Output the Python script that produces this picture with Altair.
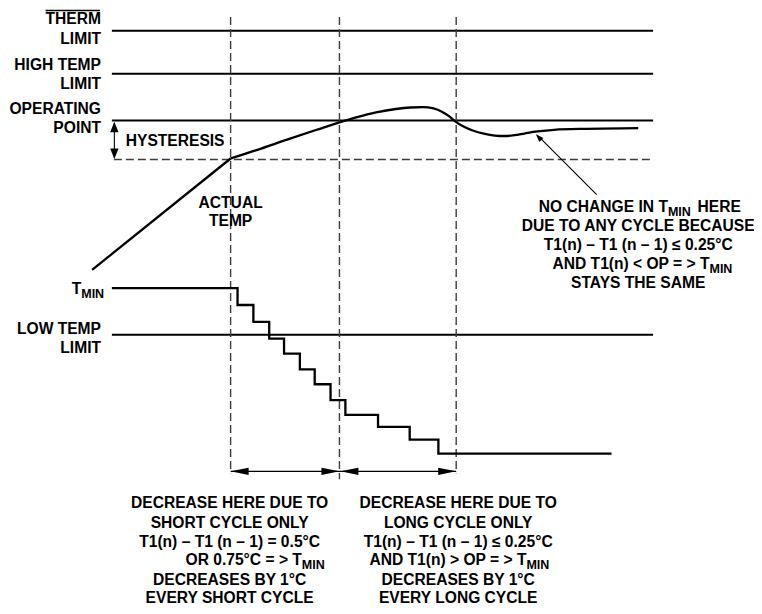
import altair as alt
import pandas as pd

# ---- diagram values (figure coordinates, y grows downward) ----
limit_names = ["THERM LIMIT", "HIGH TEMP LIMIT", "OPERATING POINT", "LOW TEMP LIMIT"]
limit_levels = [35.0, 78.3, 125.7, 342.0]
limit_start = 113
limit_end = 660
hysteresis_level = 165.0
cycle_bounds = [233, 343, 461]
cycle_ends = [482, 488, 482]

rise_x = [93, 233]
rise_y = [276.5, 164.0]

curve_x = [233, 260, 290, 320, 343, 360, 380, 400, 415, 427, 438, 447, 454, 460,
           467, 477, 490, 500, 510, 520, 530, 543, 560, 593, 645]
curve_y = [164.0, 155.3, 145.0, 135.0, 127.5, 122.5, 117.5, 114.0, 112.5, 112.2,
           113.5, 117.0, 121.5, 126.5, 131.0, 135.5, 139.2, 140.8, 141.3, 140.5,
           138.8, 136.7, 135.0, 134.0, 133.3]

tmin_x = [113, 240, 256, 272, 287, 303, 318, 334, 349, 382, 414, 443, 618]
tmin_y = [295, 312, 329, 346, 361, 377, 392, 408, 423, 435, 448, 462, 462]

FONT = "Liberation Sans, Arial, Helvetica, sans-serif"
FS = 15.6
SUB = 12.5
W, H = 746, 598

# the drawing area (746x598) shows the whole figure
xs = alt.Scale(domain=[8, 762], nice=False, zero=False)
ys = alt.Scale(domain=[12, 616], nice=False, zero=False, reverse=True)


def X(f="x"):
    return alt.X(f"{f}:Q", scale=xs, axis=None)


def Y(f="y"):
    return alt.Y(f"{f}:Q", scale=ys, axis=None)


# ---- lines ----
limits_df = pd.DataFrame({"name": limit_names, "y": limit_levels,
                          "x": limit_start, "x2": limit_end})
limits = alt.Chart(limits_df).mark_rule(color="black", strokeWidth=2).encode(
    x=X(), x2="x2:Q", y=Y())

hyst_df = pd.DataFrame({"x": [115], "x2": [limit_end], "y": [hysteresis_level]})
hyst = alt.Chart(hyst_df).mark_rule(color="#3c3c3c", strokeWidth=1.4, strokeDash=[8, 4]).encode(
    x=X(), x2="x2:Q", y=Y())

cyc_df = pd.DataFrame({"x": cycle_bounds, "y": [21] * 3, "y2": cycle_ends})
cycles = alt.Chart(cyc_df).mark_rule(color="#3c3c3c", strokeWidth=1.4, strokeDash=[8, 4]).encode(
    x=X(), y=Y(), y2="y2:Q")

rise = alt.Chart(pd.DataFrame({"x": rise_x, "y": rise_y})).mark_line(
    color="black", strokeWidth=2.3).encode(x=X(), y=Y())

curve = alt.Chart(pd.DataFrame({"x": curve_x, "y": curve_y})).mark_line(
    color="black", strokeWidth=2.3, interpolate="monotone").encode(x=X(), y=Y())

tmin = alt.Chart(pd.DataFrame({"x": tmin_x, "y": tmin_y})).mark_line(
    color="black", strokeWidth=2.3, interpolate="step-after").encode(x=X(), y=Y())

overline = alt.Chart(pd.DataFrame({"x": [46], "x2": [101], "y": [14.5]})).mark_rule(
    color="black", strokeWidth=1.5).encode(x=X(), x2="x2:Q", y=Y())

# arrows shafts
shafts_df = pd.DataFrame({
    "x": [cycle_bounds[0], 115.5, 603],
    "y": [480, 128, 200.5],
    "x2": [cycle_bounds[2], 115.5, 546],
    "y2": [480, 163, 143.5],
})
shafts = alt.Chart(shafts_df).mark_rule(color="black", strokeWidth=1.1).encode(
    x=X(), y=Y(), x2="x2:Q", y2="y2:Q")


# arrow heads (tip at origin, body toward +x; rotated clockwise by angle)
def heads(df, path, size):
    return alt.Chart(df).mark_point(shape=path, filled=True, opacity=1, color="black",
                                    strokeWidth=0, size=size).encode(
        x=X(), y=Y(), angle=alt.Angle("a:Q", scale=None))


hhead_df = pd.DataFrame({
    "x": [cycle_bounds[0], cycle_bounds[1], cycle_bounds[1] + 1, cycle_bounds[2]],
    "y": [480] * 4,
    "a": [0, 180, 0, 180],
})
hheads = heads(hhead_df, "M0,0 L2,-0.4 L2,0.4 Z", 324)

vhead_df = pd.DataFrame({"x": [115.5, 115.5], "y": [126.8, 164.5], "a": [90, 270]})
vheads = heads(vhead_df, "M0,0 L2,-0.8 L2,0.8 Z", 110)

dhead_df = pd.DataFrame({"x": [541.5], "y": [139.5], "a": [46]})
dheads = heads(dhead_df, "M0,0 L2,-0.7 L2,0.7 Z", 64)


# ---- texts ----
def txt(rows, align, size=FS):
    df = pd.DataFrame(rows, columns=["t", "x", "y"])
    return alt.Chart(df).mark_text(align=align, baseline="alphabetic", font=FONT,
                                   fontSize=size, fontWeight="bold", color="black").encode(
        x=X(), y=Y(), text="t:N")


right_rows = [
    ("THERM", 102, 28.5), ("LIMIT", 102, 48.3),
    ("HIGH TEMP", 102, 75.0), ("LIMIT", 102, 94.3),
    ("OPERATING", 102, 119.4), ("POINT", 102, 138.4),
    ("T", 82, 300.5),
    ("LOW TEMP", 102, 341.5), ("LIMIT", 102, 360.8),
    ("NO CHANGE IN T", 675, 218.3),
    ("AND T1(n) < OP = > T", 717, 275.8),
    ("OR 0.75°C = > T", 305, 575.0),
    ("AND T1(n) > OP = > T", 532, 575.0),
]
center_rows = [
    ("ACTUAL", 233, 214.0), ("TEMP", 233, 232.5),
    ("DUE TO ANY CYCLE BECAUSE", 645, 237.5),
    ("T1(n) – T1 (n – 1) ≤ 0.25°C", 645, 256.7),
    ("STAYS THE SAME", 645, 295.0),
    ("DECREASE HERE DUE TO", 232, 517.5),
    ("SHORT CYCLE ONLY", 232, 536.8),
    ("T1(n) – T1 (n – 1) = 0.5°C", 232, 556.0),
    ("DECREASES BY 1°C", 232, 594.3),
    ("EVERY SHORT CYCLE", 232, 613.0),
    ("DECREASE HERE DUE TO", 463, 517.5),
    ("LONG CYCLE ONLY", 463, 536.8),
    ("T1(n) – T1 (n – 1) ≤ 0.25°C", 463, 556.0),
    ("DECREASES BY 1°C", 463, 594.3),
    ("EVERY LONG CYCLE", 463, 613.0),
]
left_rows = [
    ("HYSTERESIS", 127, 151.7),
    ("HERE", 705, 218.3),
]
sub_rows = [
    ("MIN", 82, 305.0),
    ("MIN", 675, 222.3),
    ("MIN", 717, 279.8),
    ("MIN", 305, 579.0),
    ("MIN", 532, 579.0),
]

texts = [txt(right_rows, "right"), txt(center_rows, "center"),
         txt(left_rows, "left"), txt(sub_rows, "left", SUB)]

chart = alt.layer(
    limits, hyst, cycles, rise, curve, tmin, overline, shafts,
    hheads, vheads, dheads, *texts
).properties(
    width=W, height=H, padding=0, autosize=alt.AutoSizeParams(type="none")
).configure_view(stroke=None)

chart.save("out.html", embed_options={"renderer": "svg", "actions": False})
